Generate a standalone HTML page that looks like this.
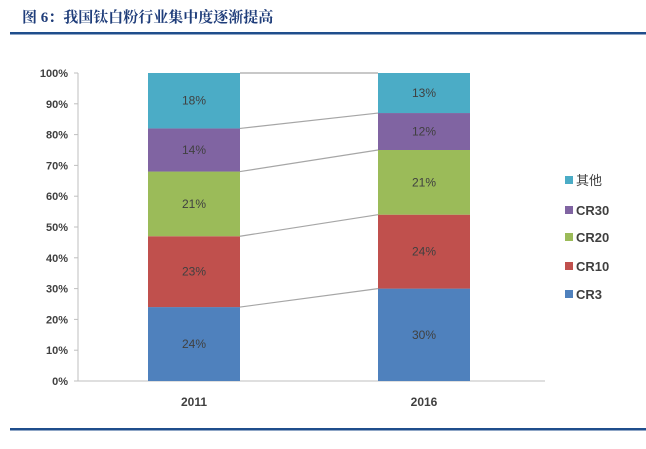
<!DOCTYPE html>
<html><head><meta charset="utf-8"><style>
body{margin:0;background:#fff;width:646px;height:444px;overflow:hidden}
</style></head><body>
<svg width="646" height="444" xmlns="http://www.w3.org/2000/svg">
<text x="22" y="22" font-family="'Liberation Serif','Noto Serif CJK SC',serif" font-weight="bold" font-size="15" fill="#1f3d7a">图 6：我国钛白粉行业集中度逐渐提高</text>
<rect x="10" y="32" width="636" height="2.5" fill="#1f4e8c"/>
<rect x="10" y="428" width="636" height="2.5" fill="#1f4e8c"/>
<g id="plot"></g>
<g id="legend"></g>
</svg>
<script>
const categories = ["2011", "2016"];
const seriesNames = ["CR3", "CR10", "CR20", "CR30", "其他"];
const cr3 = [24, 30];
const cr10 = [23, 24];
const cr20 = [21, 21];
const cr30 = [14, 12];
const other = [18, 13];
const yTicks = [0,10,20,30,40,50,60,70,80,90,100];
const colors = ["#4f81bd","#c0504d","#9bbb59","#8064a2","#4bacc6"];
const series = [cr3, cr10, cr20, cr30, other];
const NS = "http://www.w3.org/2000/svg";
const plot = document.getElementById('plot');
const y0 = 381, y1 = 73, axX = 78;
const yS = v => y0 - (y0 - y1) * v / 100;
const barW = 92;
const xC = i => 194 + i * 230;
function mk(tag, attrs, parent){const e=document.createElementNS(NS,tag);for(const k in attrs)e.setAttribute(k,attrs[k]);parent.appendChild(e);return e;}
const font = "'Liberation Sans','Noto Sans CJK SC',sans-serif";
// axis
let ax = mk('line',{x1:axX,y1:y1,x2:axX,y2:y0,stroke:'#bfbfbf'},plot);


let bx = mk('line',{x1:axX,y1:y0,x2:545,y2:y0,stroke:'#bfbfbf'},plot);


yTicks.forEach(t=>{
  const y=yS(t);
  const tk=mk('line',{x1:axX-4,y1:y,x2:axX,y2:y,stroke:'#bfbfbf'},plot);
  
  
  const tx=mk('text',{x:axX-10,y:y+4,'text-anchor':'end','font-family':font,'font-size':11,'font-weight':'bold',fill:'#404040'},plot);
  tx.textContent=t+'%';
  
  
});
// connectors
const cum = categories.map((c,i)=>{let s=0;return series.map(a=>(s+=a[i]));});
for(let k=0;k<series.length;k++){
  const ln=mk('line',{x1:xC(0)+barW/2,y1:yS(cum[0][k]),x2:xC(1)-barW/2,y2:yS(cum[1][k]),stroke:'#a6a6a6','stroke-width':1.2},plot);
  
  
}
categories.forEach((c,i)=>{
  let s=0;
  series.forEach((a,k)=>{
    const top=yS(s+a[i]), bot=yS(s);
    const r=mk('rect',{x:xC(i)-barW/2,y:top,width:barW,height:bot-top,fill:colors[k]},plot);
    
    
    const t=mk('text',{x:xC(i),y:(top+bot)/2+4,'text-anchor':'middle','font-family':font,'font-size':12,fill:'#404040'},plot);
    t.textContent=a[i]+'%';
    
    
    s+=a[i];
  });
  const xl=mk('text',{x:xC(i),y:y0+25,'text-anchor':'middle','font-family':font,'font-size':12,'font-weight':'bold',fill:'#404040'},plot);
  xl.textContent=c;
  
  
});
const lg=document.getElementById('legend');
const lgY=[294,266,237,210,180];
seriesNames.forEach((n,k)=>{
  const g=mk('g',{},lg);
  
  
  mk('rect',{x:565,y:lgY[k]-4,width:8,height:8,fill:colors[k]},g);
  const t=mk('text',{x:576,y:lgY[k]+5,'font-family':font,'font-size':13,'font-weight':k<4?'bold':'normal',fill:'#404040'},g);
  t.textContent=n;
});
</script>
</body></html>
